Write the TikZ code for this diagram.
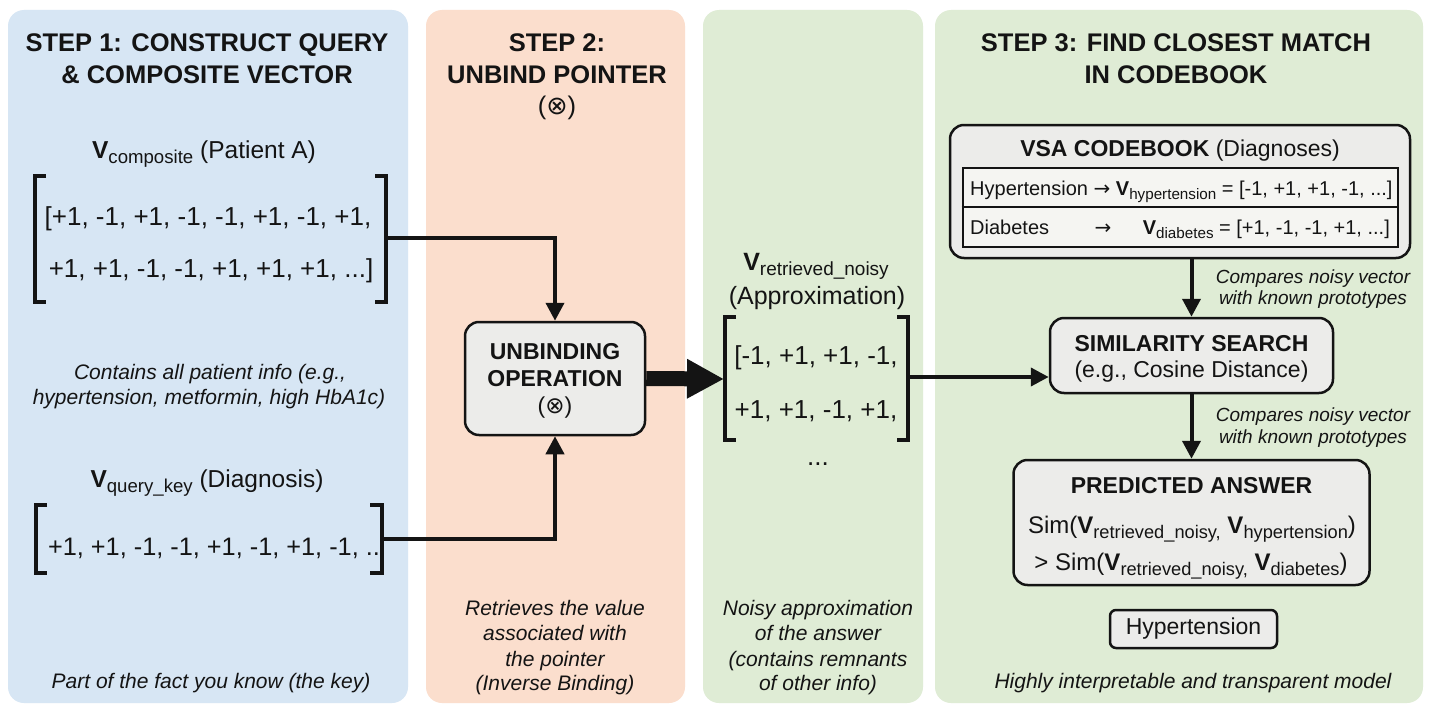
\documentclass[tikz,border=0pt]{standalone}
\usepackage{fontspec}
\setmainfont{Liberation Sans}
\newfontfamily\symfont{DejaVu Sans}
\usetikzlibrary{arrows.meta}

\definecolor{panelblue}{RGB}{215,230,244}
\definecolor{panelorange}{RGB}{251,222,205}
\definecolor{panelgreen}{RGB}{223,236,213}
\definecolor{boxgray}{RGB}{236,236,234}
\definecolor{tablegray}{RGB}{245,245,242}
\definecolor{ink}{RGB}{20,20,20}

% bold V with a lowered, smaller subscript
\newcommand\Vsub[1]{\textbf{V}\raisebox{-0.22em}{\scalebox{0.76}{#1}}}
\newcommand\otim{{\symfont ⊗}}
\newcommand\rarr{{\symfont →}}

\begin{document}
\begin{tikzpicture}[x=1pt, y=-1pt,
  every node/.style={text=ink, inner sep=0pt},
  panel/.style={rounded corners=16pt},
  procbox/.style={draw=ink, line width=2.5pt, rounded corners=14pt, fill=boxgray, inner sep=0pt},
  conn/.style={draw=ink, line width=4pt, -{Triangle[length=18pt,width=18pt]}},
  brk/.style={draw=ink, line width=4pt, line cap=butt, line join=miter},
  head/.style={font=\fontsize{25.5}{31}\selectfont\bfseries, anchor=base},
  lbl/.style={font=\fontsize{24.5}{29}\selectfont, anchor=base},
  vec/.style={font=\fontsize{26}{31}\selectfont, anchor=base},
  note/.style={font=\fontsize{21}{25}\selectfont\itshape, anchor=base},
  side/.style={font=\fontsize{19}{22}\selectfont\itshape, anchor=base},
  boxhead/.style={font=\fontsize{23}{27}\selectfont\bfseries, anchor=base},
  boxtext/.style={font=\fontsize{23}{27}\selectfont, anchor=base},
  simtext/.style={font=\fontsize{24}{28}\selectfont, anchor=base},
  rowtext/.style={font=\fontsize{20}{24}\selectfont, anchor=base}
]
\useasboundingbox (0,0) rectangle (1432,709);
\fill[white] (0,0) rectangle (1432,709);

% ---- panels ----
\fill[panelblue, panel]   (8,10)   rectangle (408,703);
\fill[panelorange, panel] (426,10) rectangle (685,703);
\fill[panelgreen, panel]  (703,10) rectangle (923,703);
\fill[panelgreen, panel]  (935,10) rectangle (1423,703);

% ---- step 1 ----
\node[head] (h1a) at (207,52) {STEP 1: CONSTRUCT QUERY};
\node[head] (h1b) at (207,83) {\& COMPOSITE VECTOR};

\node[lbl] (vcomp) at (204,158) {\Vsub{composite} (Patient A)};
\draw[brk] (46,176) -- (35,176) -- (35,302) -- (46,302);
\draw[brk] (375,176) -- (386,176) -- (386,302) -- (375,302);
\node[vec] (comp1) at (208,225) {[+1, -1, +1, -1, -1, +1, -1, +1,};
\node[vec] (comp2) at (211,277) {+1, +1, -1, -1, +1, +1, +1, ...]};
\coordinate (compR) at (386,238);

\node[note] (n1a) at (210,379) {Contains all patient info (e.g.,};
\node[note] (n1b) at (209,404) {hypertension, metformin, high HbA1c)};

\node[lbl] (vquery) at (207,487) {\Vsub{query\_key} (Diagnosis)};
\draw[brk] (47,505) -- (36,505) -- (36,573) -- (47,573);
\draw[brk] (370,505) -- (382,505) -- (382,573) -- (370,573);
\node[vec, font=\fontsize{25.3}{30}\selectfont] (qrow) at (214,555) {+1, +1, -1, -1, +1, -1, +1, -1, ..};
\coordinate (queryR) at (382,539);

\node[note] (n1c) at (211,688) {Part of the fact you know (the key)};

% ---- step 2 ----
\node[head] (h2a) at (557,52) {STEP 2:};
\node[head] (h2b) at (557,83) {UNBIND POINTER};
\node[head, font=\fontsize{25.5}{31}\selectfont] (h2c) at (557,114) {(\otim)};

\node[procbox, minimum width=180pt, minimum height=113pt] (unbind) at (555,378.5) {};
\node[boxhead] (u1) at (555,359) {UNBINDING};
\node[boxhead] (u2) at (555,386) {OPERATION};
\node[boxtext] (u3) at (555,413) {(\otim)};

\node[note] (n2a) at (555,615) {Retrieves the value};
\node[note] (n2b) at (555,640) {associated with};
\node[note] (n2c) at (555,666) {the pointer};
\node[note] (n2d) at (555,690) {(Inverse Binding)};

% ---- noisy result ----
\node[lbl, font=\fontsize{25}{29}\selectfont] (vnoisy) at (816,270) {\Vsub{retrieved\_noisy}};
\node[lbl, font=\fontsize{25}{29}\selectfont] (approx) at (817,304) {(Approximation)};
\draw[brk] (736,317) -- (725,317) -- (725,440) -- (736,440);
\draw[brk] (897,317) -- (908,317) -- (908,440) -- (897,440);
\node[vec] (noisy1) at (816,364) {[-1, +1, +1, -1,};
\node[vec] (noisy2) at (816,418) {+1, +1, -1, +1,};
\node[vec] (noisydots) at (818,465) {...};
\coordinate (noisyL) at (724,379);
\coordinate (noisyR) at (908,377);

\node[note] (n3a) at (818,615) {Noisy approximation};
\node[note] (n3b) at (818,640) {of the answer};
\node[note] (n3c) at (818,666) {(contains remnants};
\node[note] (n3d) at (818,690) {of other info)};

% ---- step 3 ----
\node[head] (h3a) at (1176,52) {STEP 3: FIND CLOSEST MATCH};
\node[head] (h3b) at (1176,83) {IN CODEBOOK};

\node[procbox, minimum width=460pt, minimum height=133pt] (codebook) at (1180,191.5) {};
\node[boxtext] (cbt) at (1180,156) {\textbf{VSA CODEBOOK} (Diagnoses)};
\node[draw=ink, line width=2pt, fill=tablegray, minimum width=435pt, minimum height=79pt] (table) at (1180,207) {};
\draw[ink, line width=2pt] (table.west) -- (table.east);
\node[rowtext, anchor=base west] (row1) at (970,195)
  {Hypertension \rarr\ \Vsub{hypertension} = [-1, +1, +1, -1, ...]};
\node[rowtext, anchor=base west] (row2a) at (970,234) {Diabetes};
\node[rowtext] (row2b) at (1103,234) {\rarr};
\node[rowtext, anchor=base east] (row2c) at (1390,234) {\Vsub{diabetes} = [+1, -1, -1, +1, ...]};

\node[procbox, minimum width=283pt, minimum height=75pt] (sim) at (1191.5,355.5) {};
\node[boxhead] (s1) at (1191.5,351) {SIMILARITY SEARCH};
\node[boxtext] (s2) at (1191.5,377) {(e.g., Cosine Distance)};

\node[side] (c1a) at (1313,283) {Compares noisy vector};
\node[side] (c1b) at (1313,304) {with known prototypes};
\node[side] (c2a) at (1313,421) {Compares noisy vector};
\node[side] (c2b) at (1313,443) {with known prototypes};

\node[procbox, minimum width=356pt, minimum height=125pt] (pred) at (1191.5,522.5) {};
\node[boxhead] (p1) at (1191.5,493) {PREDICTED ANSWER};
\node[simtext] (p2) at (1192,533) {Sim(\Vsub{retrieved\_noisy,} \Vsub{hypertension})};
\node[simtext] (p3) at (1191,570) {> Sim(\Vsub{retrieved\_noisy,} \Vsub{diabetes})};

\node[procbox, rounded corners=6pt, minimum width=167pt, minimum height=38pt,
      font=\fontsize{23}{27}\selectfont] (answer) at (1193.5,629) {Hypertension};

\node[note] (n4) at (1193,688) {Highly interpretable and transparent model};

% ---- connectors ----
\draw[conn] (compR) -| (unbind.north);
\draw[conn] (queryR) -| (unbind.south);
\draw[draw=ink, line width=15pt, -{Triangle[length=37pt,width=37pt]}] (unbind.east) -- (noisyL);
\draw[conn] (noisyR) -- (noisyR -| sim.west);
\draw[conn] (codebook.south -| sim.north) -- (sim.north);
\draw[conn] (sim.south) -- (pred.north);
\end{tikzpicture}
\end{document}
